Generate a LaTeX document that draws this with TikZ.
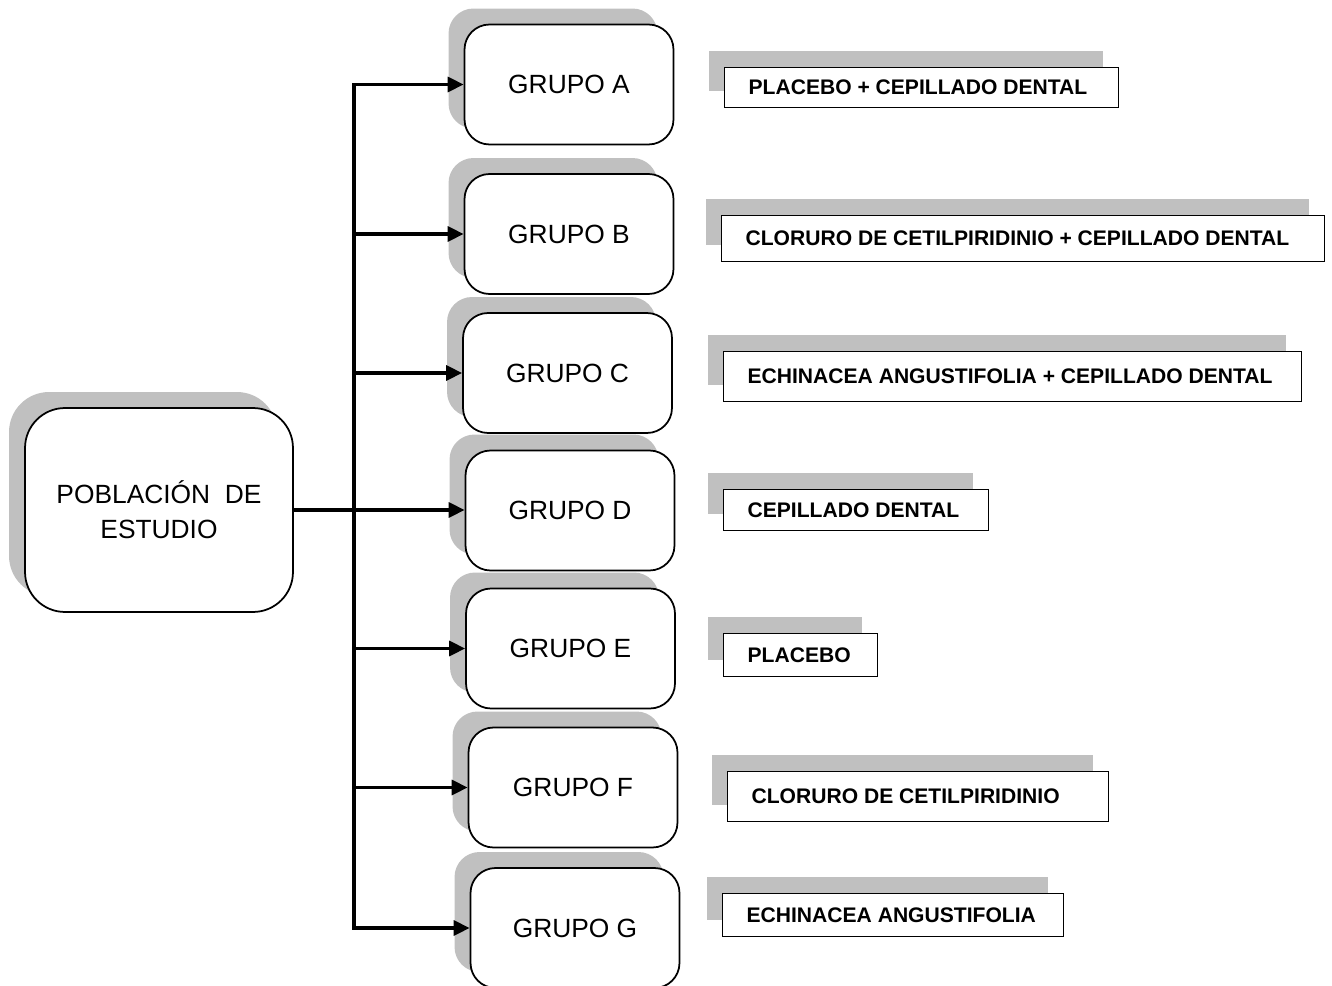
\documentclass[tikz,border=0pt]{standalone}
\usepackage{fontspec}
\setmainfont{Liberation Sans}
\usetikzlibrary{arrows.meta,shadows}

\definecolor{sombra}{RGB}{192,192,192}

\tikzset{
  caja/.style={draw, line width=1pt, fill=white, align=center,
    font=\fontsize{15}{20}\selectfont,
    drop shadow={shadow xshift=-0.32cm, shadow yshift=0.32cm, opacity=1, fill=sombra}},
  grupo/.style={caja, rounded corners=0.5cm, minimum width=4.18cm, minimum height=2.4cm},
  trat/.style={draw, line width=0.7pt, fill=white, inner xsep=0pt, anchor=north west,
    font=\fontsize{12}{14}\selectfont\bfseries,
    drop shadow={shadow xshift=-0.32cm, shadow yshift=0.34cm, opacity=1, fill=sombra}},
  linea/.style={line width=1.8pt, line cap=rect},
  flecha/.style={linea, -{Triangle[length=0.32cm,width=0.3cm]}}
}

\begin{document}
\begin{tikzpicture}[x=0.02cm, y=-0.02cm]
  \useasboundingbox (0,0) rectangle (1332,986);

  % poblacion
  \node[caja, rounded corners=0.8cm, minimum width=5.36cm, minimum height=4.08cm]
    (pob) at (159,510) {POBLACIÓN\ \ DE\\ESTUDIO};

  % grupos
  \foreach \g/\x/\y in {A/569/84.5, B/569/234, C/567.5/373, D/570/510.5,
                        E/570.5/648.5, F/573/787.5, G/575/928}
    \node[grupo] (grp\g) at (\x,\y) {GRUPO \g};

  % tratamientos
  \foreach \g/\x/\y/\w/\h/\t in {
      A/724/67/7.88/0.80/PLACEBO + CEPILLADO DENTAL,
      B/721/215/12.06/0.92/CLORURO DE CETILPIRIDINIO + CEPILLADO DENTAL,
      C/723/351/11.56/1.00/ECHINACEA ANGUSTIFOLIA + CEPILLADO DENTAL,
      D/723/489/5.30/0.82/CEPILLADO DENTAL,
      E/723/633/3.08/0.86/PLACEBO,
      F/727/771/7.62/1.00/CLORURO DE CETILPIRIDINIO,
      G/722/893/6.82/0.86/ECHINACEA ANGUSTIFOLIA}
    \node[trat, minimum height=\h cm] (trat\g) at (\x,\y)
      {\makebox[\w cm][l]{\hspace{0.48cm}\t}};

  % flechas
  \coordinate (tronco) at (354,0);
  \draw[linea] (tronco |- grpA.west) -- (tronco |- grpG.west);
  \draw[flecha] (pob.east) -- (pob.east -| grpD.west);
  \foreach \g in {A,B,C,E,F,G}
    \draw[flecha] (tronco |- grp\g.west) -- (grp\g.west);
\end{tikzpicture}
\end{document}
